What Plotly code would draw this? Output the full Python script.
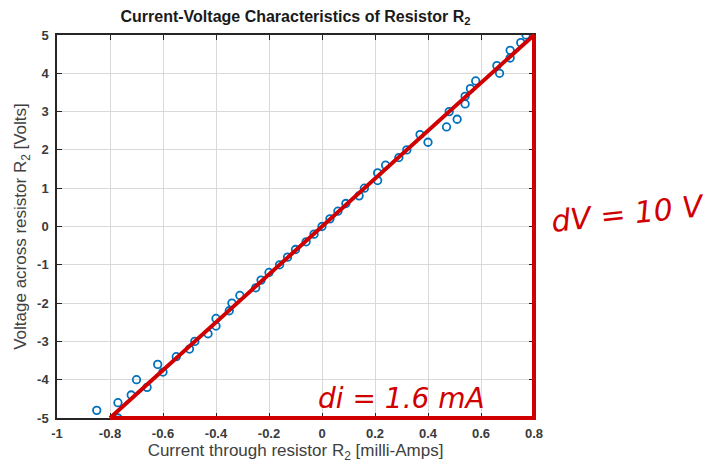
import plotly.graph_objects as go

# Measured data: current (mA) and voltage (V)
current_mA = [-0.85, -0.77, -0.77, -0.72, -0.70, -0.66, -0.62, -0.60, -0.55, -0.50,
              -0.48, -0.43, -0.40, -0.40, -0.35, -0.34, -0.31, -0.25, -0.23, -0.20,
              -0.16, -0.13, -0.10, -0.06, -0.03, 0.00, 0.03, 0.06, 0.09, 0.14,
              0.16, 0.21, 0.21, 0.24, 0.29, 0.32, 0.37, 0.40, 0.47, 0.48,
              0.51, 0.54, 0.54, 0.56, 0.58, 0.67, 0.66, 0.71, 0.71, 0.75, 0.77]
voltage_V = [-4.8, -5.0, -4.6, -4.4, -4.0, -4.2, -3.6, -3.8, -3.4, -3.2,
             -3.0, -2.8, -2.4, -2.6, -2.2, -2.0, -1.8, -1.6, -1.4, -1.2,
             -1.0, -0.8, -0.6, -0.4, -0.2, 0.0, 0.2, 0.4, 0.6, 0.8,
             1.0, 1.2, 1.4, 1.6, 1.8, 2.0, 2.4, 2.2, 2.6, 3.0,
             2.8, 3.2, 3.4, 3.6, 3.8, 4.0, 4.2, 4.4, 4.6, 4.8, 5.0]

# Hand-drawn slope triangle (annotation)
tri_x = [-0.8, 0.8, 0.8, -0.8]
tri_y = [-5, -5, 5, -5]
di_label = "di = 1.6 mA"
dv_label = "dV = 10 V"

x_ticks = [-1, -0.8, -0.6, -0.4, -0.2, 0, 0.2, 0.4, 0.6, 0.8]
x_tick_text = ["-1", "-0.8", "-0.6", "-0.4", "-0.2", "0", "0.2", "0.4", "0.6", "0.8"]
y_ticks = [-5, -4, -3, -2, -1, 0, 1, 2, 3, 4, 5]
y_tick_text = ["-5", "-4", "-3", "-2", "-1", "0", "1", "2", "3", "4", "5"]

X_RANGE = [-1, 0.8]
Y_RANGE = [-5, 5]

# layout geometry (pixels)
W, H = 710, 476
ML, MR, MT, MB = 49, 168, 27, 50
PAD = 8
pw = W - ML - MR
ph = H - MT - MB
dx = [PAD / pw, 1 - PAD / pw]
dy = [PAD / ph, 1 - PAD / ph]
ux = (X_RANGE[1] - X_RANGE[0]) / (pw - 2 * PAD)
uy = (Y_RANGE[1] - Y_RANGE[0]) / (ph - 2 * PAD)
x2_range = [X_RANGE[0] - PAD * ux, X_RANGE[1] + PAD * ux]
y2_range = [Y_RANGE[0] - PAD * uy, Y_RANGE[1] + PAD * uy]

axis_color = "#262626"
grid_color = "#d9d9d9"
red = "#d10000"
font_family = "Liberation Sans, Arial, sans-serif"
hand_font = "DejaVu Sans, sans-serif"

fig = go.Figure()

fig.add_trace(go.Scatter(
    x=current_mA, y=voltage_V, mode="markers",
    marker=dict(symbol="circle-open", size=7.5, color="#0072BD",
                line=dict(width=1.8, color="#0072BD")),
    xaxis="x", yaxis="y", showlegend=False, hoverinfo="x+y"))

fig.add_trace(go.Scatter(
    x=tri_x, y=tri_y, mode="lines",
    line=dict(color=red, width=4),
    xaxis="x2", yaxis="y2", showlegend=False, hoverinfo="skip"))

common_axis = dict(
    showline=True, linecolor=axis_color, linewidth=1.5, mirror="ticks",
    ticks="inside", ticklen=5, tickwidth=1, tickcolor=axis_color,
    showgrid=True, gridcolor=grid_color, gridwidth=1, zeroline=False,
    tickfont=dict(family=font_family, size=13, color="#3a3a3a", weight="bold"),
    automargin=False,
)

fig.update_layout(
    width=W, height=H,
    margin=dict(l=ML, r=MR, t=MT, b=MB, pad=0),
    paper_bgcolor="white", plot_bgcolor="rgba(0,0,0,0)",
    font=dict(family=font_family, color=axis_color),
    title=dict(text="<b>Current-Voltage Characteristics of Resistor R<sub>2</sub></b>",
               x=0.5, xref="paper", xanchor="center",
               y=1 - 16 / H, yref="container", yanchor="middle",
               font=dict(size=16, color="#1a1a1a")),
    xaxis=dict(domain=dx, range=X_RANGE, tickvals=x_ticks, ticktext=x_tick_text,
               anchor="y", ticklabelstandoff=3,
               title=dict(text="Current through resistor R<sub>2</sub> [milli-Amps]",
                          font=dict(size=17, color="#404040"), standoff=4),
               **common_axis),
    yaxis=dict(domain=dy, range=Y_RANGE, tickvals=y_ticks, ticktext=y_tick_text,
               anchor="x", ticklabelstandoff=4,
               title=dict(text="Voltage across resistor R<sub>2</sub> [Volts]",
                          font=dict(size=17, color="#404040"), standoff=6),
               **common_axis),
    xaxis2=dict(domain=[0, 1], range=x2_range, visible=False, anchor="y2",
                fixedrange=True),
    yaxis2=dict(domain=[0, 1], range=y2_range, visible=False, anchor="x2",
                fixedrange=True),
)

fig.add_annotation(
    x=0.3, y=-4.5, xref="x", yref="y", text=di_label, showarrow=False,
    font=dict(family=hand_font, size=28, color=red, style="italic"),
    xanchor="center", yanchor="middle")

fig.add_annotation(
    x=1.01, y=0.35, xref="paper", yref="y2", text=dv_label, showarrow=False,
    font=dict(family=hand_font, size=30, color=red, style="italic"),
    xanchor="left", yanchor="middle", textangle=-6)

fig.write_html("out.html", config={"displayModeBar": False},
               post_script="document.body.style.margin='0';")
